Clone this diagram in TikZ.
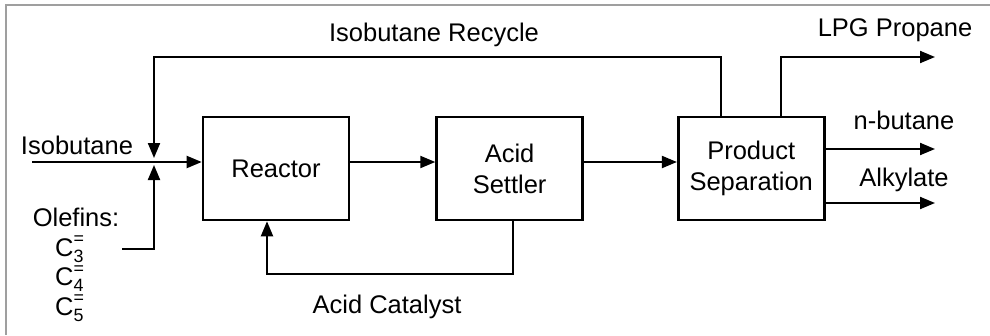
\documentclass[tikz,border=0pt]{standalone}
\usepackage{amsmath}
\usepackage{fontspec}
\setmainfont{Liberation Sans}
\usetikzlibrary{arrows.meta, positioning}

\begin{document}
\begin{tikzpicture}[x=1pt, y=-1pt,
  unit/.style={rectangle, draw, line width=2.6pt, minimum width=146pt, minimum height=103pt, align=center, inner sep=0pt, font=\fontsize{25.5}{31}\selectfont},
  flow/.style={-{Triangle[length=15pt,width=12pt]}, line width=2pt},
  lbl/.style={inner sep=0pt, font=\fontsize{25.5}{31}\selectfont}
]
\useasboundingbox (0,0) rectangle (990,335);
\draw[gray!75, line width=2pt] (990,5) -- (6,5) -- (6,335);

% ── Process units ────────────────────────────────────────────
\node[unit] (reactor) at (276,168.5) {Reactor};
\node[unit, right=85pt of reactor] (settler) {Acid\\Settler};
\node[unit, right=93pt of settler] (sep) {Product\\Separation};

% ── Stream points ────────────────────────────────────────────
\coordinate (isoin)  at (32,162);
\coordinate (olin)   at (122,249);
\coordinate (mixtop) at (154,158);
\coordinate (mixbot) at (154,165);
\coordinate (recyc)  at (154,57);
\coordinate (acid)   at (267,274);
\coordinate (lpg)    at (935,57);
\coordinate (nbut)   at (935,149);
\coordinate (alky)   at (935,203);

% ── Streams ──────────────────────────────────────────────────
\draw[flow] (isoin) -- (reactor.west |- isoin);
\draw[flow] (olin) -| (mixbot);
\draw[flow] ([xshift=-30pt]sep.north) |- (recyc) -- (mixtop);
\draw[flow] (reactor.east |- isoin) -- (settler.west |- isoin);
\draw[flow] (settler.east |- isoin) -- (sep.west |- isoin);
\draw[flow] ([xshift=3pt]settler.south) |- (acid) -- (reactor.south -| acid);
\draw[flow] ([xshift=30pt]sep.north) |- (lpg);
\draw[flow] (sep.east |- nbut) -- (nbut);
\draw[flow] (sep.east |- alky) -- (alky);

% ── Labels ───────────────────────────────────────────────────
\node[lbl] (isolbl)   at (77,145)  {Isobutane};
\node[lbl] (recyclbl) at (434,35)  {Isobutane Recycle};
\node[lbl] (acidlbl)  at (387,307) {Acid Catalyst};
\node[lbl] (lpglbl)   at (895,30)  {LPG Propane};
\node[lbl] (nbutlbl)  at (904,120) {n-butane};
\node[lbl] (alklbl)   at (904,180) {Alkylate};
\node[lbl] (olelbl)   at (76,217)  {Olefins:};
\node[lbl, align=left, anchor=north west, font=\fontsize{25.5}{29.5}\selectfont] (olefins) at (55,236)
  {$\text{C}_{\text{3}}^{\text{=}}$\\$\text{C}_{\text{4}}^{\text{=}}$\\$\text{C}_{\text{5}}^{\text{=}}$};
\end{tikzpicture}
\end{document}
